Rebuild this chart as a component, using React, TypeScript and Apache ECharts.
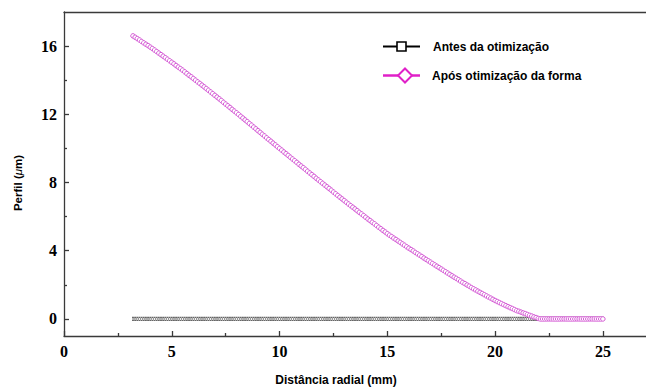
import React, { useEffect, useRef } from "react";
import * as echarts from "echarts";

// Radial positions (mm) where the profile was sampled
const radii = [
  3.2, 3.3, 3.4, 3.5, 3.6, 3.7, 3.8, 3.9, 4.0, 4.1,
  4.2, 4.3, 4.4, 4.5, 4.6, 4.7, 4.8, 4.9, 5.0, 5.1,
  5.2, 5.3, 5.4, 5.5, 5.6, 5.7, 5.8, 5.9, 6.0, 6.1,
  6.2, 6.3, 6.4, 6.5, 6.6, 6.7, 6.8, 6.9, 7.0, 7.1,
  7.2, 7.3, 7.4, 7.5, 7.6, 7.7, 7.8, 7.9, 8.0, 8.1,
  8.2, 8.3, 8.4, 8.5, 8.6, 8.7, 8.8, 8.9, 9.0, 9.1,
  9.2, 9.3, 9.4, 9.5, 9.6, 9.7, 9.8, 9.9, 10.0, 10.1,
  10.2, 10.3, 10.4, 10.5, 10.6, 10.7, 10.8, 10.9, 11.0, 11.1,
  11.2, 11.3, 11.4, 11.5, 11.6, 11.7, 11.8, 11.9, 12.0, 12.1,
  12.2, 12.3, 12.4, 12.5, 12.6, 12.7, 12.8, 12.9, 13.0, 13.1,
  13.2, 13.3, 13.4, 13.5, 13.6, 13.7, 13.8, 13.9, 14.0, 14.1,
  14.2, 14.3, 14.4, 14.5, 14.6, 14.7, 14.8, 14.9, 15.0, 15.1,
  15.2, 15.3, 15.4, 15.5, 15.6, 15.7, 15.8, 15.9, 16.0, 16.1,
  16.2, 16.3, 16.4, 16.5, 16.6, 16.7, 16.8, 16.9, 17.0, 17.1,
  17.2, 17.3, 17.4, 17.5, 17.6, 17.7, 17.8, 17.9, 18.0, 18.1,
  18.2, 18.3, 18.4, 18.5, 18.6, 18.7, 18.8, 18.9, 19.0, 19.1,
  19.2, 19.3, 19.4, 19.5, 19.6, 19.7, 19.8, 19.9, 20.0, 20.1,
  20.2, 20.3, 20.4, 20.5, 20.6, 20.7, 20.8, 20.9, 21.0, 21.1,
  21.2, 21.3, 21.4, 21.5, 21.6, 21.7, 21.8, 21.9, 22.0, 22.1,
  22.2, 22.3, 22.4, 22.5, 22.6, 22.7, 22.8, 22.9, 23.0, 23.1,
  23.2, 23.3, 23.4, 23.5, 23.6, 23.7, 23.8, 23.9, 24.0, 24.1,
  24.2, 24.3, 24.4, 24.5, 24.6, 24.7, 24.8, 24.9, 25.0,
];

// Profile before optimisation (µm): flat
const perfilAntes = [
  0, 0, 0, 0, 0, 0, 0, 0, 0, 0,
  0, 0, 0, 0, 0, 0, 0, 0, 0, 0,
  0, 0, 0, 0, 0, 0, 0, 0, 0, 0,
  0, 0, 0, 0, 0, 0, 0, 0, 0, 0,
  0, 0, 0, 0, 0, 0, 0, 0, 0, 0,
  0, 0, 0, 0, 0, 0, 0, 0, 0, 0,
  0, 0, 0, 0, 0, 0, 0, 0, 0, 0,
  0, 0, 0, 0, 0, 0, 0, 0, 0, 0,
  0, 0, 0, 0, 0, 0, 0, 0, 0, 0,
  0, 0, 0, 0, 0, 0, 0, 0, 0, 0,
  0, 0, 0, 0, 0, 0, 0, 0, 0, 0,
  0, 0, 0, 0, 0, 0, 0, 0, 0, 0,
  0, 0, 0, 0, 0, 0, 0, 0, 0, 0,
  0, 0, 0, 0, 0, 0, 0, 0, 0, 0,
  0, 0, 0, 0, 0, 0, 0, 0, 0, 0,
  0, 0, 0, 0, 0, 0, 0, 0, 0, 0,
  0, 0, 0, 0, 0, 0, 0, 0, 0, 0,
  0, 0, 0, 0, 0, 0, 0, 0, 0, 0,
  0, 0, 0, 0, 0, 0, 0, 0, 0, 0,
  0, 0, 0, 0, 0, 0, 0, 0, 0, 0,
  0, 0, 0, 0, 0, 0, 0, 0, 0, 0,
  0, 0, 0, 0, 0, 0, 0, 0, 0,
];

// Profile after shape optimisation (µm)
const perfilApos = [
  16.6, 16.52, 16.44, 16.36, 16.27, 16.19, 16.11, 16.03, 15.94, 15.86,
  15.77, 15.68, 15.59, 15.5, 15.41, 15.32, 15.23, 15.14, 15.05, 14.96,
  14.86, 14.77, 14.68, 14.59, 14.49, 14.39, 14.29, 14.2, 14.1, 14.0,
  13.9, 13.81, 13.71, 13.61, 13.51, 13.41, 13.31, 13.21, 13.11, 13.01,
  12.91, 12.81, 12.7, 12.6, 12.5, 12.4, 12.29, 12.19, 12.09, 11.99,
  11.88, 11.78, 11.67, 11.57, 11.46, 11.36, 11.25, 11.15, 11.04, 10.94,
  10.83, 10.73, 10.62, 10.52, 10.42, 10.31, 10.21, 10.1, 10.0, 9.9,
  9.79, 9.69, 9.59, 9.48, 9.38, 9.28, 9.18, 9.07, 8.97, 8.87,
  8.77, 8.66, 8.56, 8.46, 8.36, 8.25, 8.15, 8.05, 7.95, 7.85,
  7.75, 7.65, 7.55, 7.44, 7.34, 7.24, 7.14, 7.04, 6.94, 6.84,
  6.74, 6.64, 6.55, 6.45, 6.35, 6.25, 6.16, 6.06, 5.96, 5.86,
  5.77, 5.67, 5.58, 5.48, 5.38, 5.29, 5.19, 5.1, 5.0, 4.91,
  4.83, 4.74, 4.66, 4.57, 4.49, 4.4, 4.32, 4.23, 4.15, 4.07,
  3.99, 3.9, 3.82, 3.74, 3.66, 3.57, 3.49, 3.41, 3.33, 3.25,
  3.17, 3.09, 3.01, 2.93, 2.85, 2.77, 2.69, 2.61, 2.53, 2.45,
  2.38, 2.3, 2.22, 2.14, 2.07, 1.99, 1.92, 1.84, 1.77, 1.7,
  1.63, 1.56, 1.49, 1.42, 1.35, 1.28, 1.22, 1.15, 1.08, 1.02,
  0.96, 0.9, 0.84, 0.78, 0.72, 0.66, 0.61, 0.55, 0.49, 0.45,
  0.4, 0.35, 0.31, 0.26, 0.21, 0.17, 0.12, 0.08, 0.03, 0,
  0, 0, 0, 0, 0, 0, 0, 0, 0, 0,
  0, 0, 0, 0, 0, 0, 0, 0, 0, 0,
  0, 0, 0, 0, 0, 0, 0, 0, 0,
];

const xMajorTicks = [0, 5, 10, 15, 20, 25];
const xMinorTicks = [2.5, 7.5, 12.5, 17.5, 22.5];
const yMajorTicks = [0, 4, 8, 12, 16];
const yMinorTicks = [2, 6, 10, 14];

const serieAntes = "Antes da otimização";
const serieApos = "Após otimização da forma";
const tituloX = "Distância radial (mm)";

const AXIS_COLOR = "#3a3a3a";
const PINK = "#E020C8";
const PINK_MARK = "#D04CD0";

export default function App() {
  const ref = useRef<HTMLDivElement>(null);

  useEffect(() => {
    if (!ref.current) return;
    const chart = echarts.init(ref.current, null, { renderer: "svg" });

    const tickLabel = {
      fontFamily: "Liberation Serif",
      fontWeight: "bold" as const,
      fontSize: 16,
      color: "#000",
    };
    const axisLineStyle = { color: AXIS_COLOR, width: 1.3 };
    const titleFont = "bold 12px 'Liberation Sans', Arial, sans-serif";

    chart.setOption({
      animation: false,
      backgroundColor: "#fff",
      grid: { left: 64, right: 0, top: 12, bottom: 51, containLabel: false },
      xAxis: [
        {
          type: "value",
          min: 0,
          max: 27,
          position: "bottom",
          axisLine: { show: true, onZero: false, lineStyle: axisLineStyle },
          axisTick: { show: true, inside: true, length: 5, customValues: xMajorTicks, lineStyle: axisLineStyle },
          axisLabel: { ...tickLabel, margin: 7, customValues: xMajorTicks },
          splitLine: { show: false },
        },
        {
          type: "value",
          min: 0,
          max: 27,
          position: "bottom",
          axisLine: { show: false, onZero: false },
          axisTick: { show: true, inside: true, length: 3, customValues: xMinorTicks, lineStyle: axisLineStyle },
          axisLabel: { show: false },
          splitLine: { show: false },
        },
        {
          type: "value",
          min: 0,
          max: 27,
          position: "top",
          axisLine: { show: true, onZero: false, lineStyle: axisLineStyle },
          axisTick: { show: false },
          axisLabel: { show: false },
          splitLine: { show: false },
        },
      ],
      yAxis: [
        {
          type: "value",
          min: -1,
          max: 18,
          position: "left",
          axisLine: { show: true, onZero: false, lineStyle: axisLineStyle },
          axisTick: { show: true, inside: true, length: 5, customValues: yMajorTicks, lineStyle: axisLineStyle },
          axisLabel: { ...tickLabel, margin: 7, customValues: yMajorTicks },
          splitLine: { show: false },
        },
        {
          type: "value",
          min: -1,
          max: 18,
          position: "left",
          axisLine: { show: false, onZero: false },
          axisTick: { show: true, inside: true, length: 3, customValues: yMinorTicks, lineStyle: axisLineStyle },
          axisLabel: { show: false },
          splitLine: { show: false },
        },
      ],
      series: [
        {
          name: serieAntes,
          type: "line",
          xAxisIndex: 0,
          yAxisIndex: 0,
          data: radii.map((r, i) => [r, perfilAntes[i]]),
          showAllSymbol: true,
          symbol: "rect",
          symbolSize: [1.4, 3.2],
          itemStyle: { color: "#fff", borderColor: "#666", borderWidth: 0.7 },
          lineStyle: { color: "#666", width: 0.8 },
          z: 2,
        },
        {
          name: serieApos,
          type: "line",
          xAxisIndex: 0,
          yAxisIndex: 0,
          data: radii.map((r, i) => [r, perfilApos[i]]),
          showAllSymbol: true,
          symbol: "circle",
          symbolSize: 4.5,
          itemStyle: { color: "#fff", borderColor: PINK_MARK, borderWidth: 0.9 },
          lineStyle: { color: PINK_MARK, width: 1 },
          z: 3,
        },
      ],
      graphic: [
        // legend
        { type: "line", shape: { x1: 383, y1: 46.5, x2: 420, y2: 46.5 }, style: { stroke: "#000", lineWidth: 2 } },
        { type: "rect", shape: { x: 397, y: 42, width: 9, height: 9 }, style: { fill: "#fff", stroke: "#000", lineWidth: 1.6 } },
        {
          type: "text",
          x: 433,
          y: 46.5,
          style: { text: serieAntes, fill: "#000", font: titleFont, verticalAlign: "middle", align: "left" },
        },
        { type: "line", shape: { x1: 383, y1: 75.5, x2: 420, y2: 75.5 }, style: { stroke: PINK, lineWidth: 2.5 } },
        {
          type: "polygon",
          shape: { points: [[405, 68.5], [412, 75.5], [405, 82.5], [398, 75.5]] },
          style: { fill: "#fff", stroke: PINK, lineWidth: 2 },
        },
        {
          type: "text",
          x: 432,
          y: 75.5,
          style: { text: serieApos, fill: "#000", font: titleFont, verticalAlign: "middle", align: "left" },
        },
        // axis titles
        {
          type: "text",
          x: 336,
          y: 380,
          style: { text: tituloX, fill: "#000", font: titleFont, align: "center", verticalAlign: "middle" },
        },
        {
          type: "text",
          x: 18,
          y: 183,
          rotation: Math.PI / 2,
          style: {
            text: "{a|Perfil (}{i|μ}{a|m)}",
            align: "center",
            verticalAlign: "middle",
            rich: {
              a: { fontFamily: "Liberation Sans", fontWeight: "bold", fontSize: 11.5, fill: "#000" },
              i: { fontFamily: "Liberation Sans", fontStyle: "italic", fontSize: 11.5, fill: "#000" },
            },
          },
        },
      ],
    });

    return () => chart.dispose();
  }, []);

  return (
    <div
      ref={ref}
      style={{ position: "absolute", left: 0, top: 0, width: 646, height: 387 }}
    />
  );
}
